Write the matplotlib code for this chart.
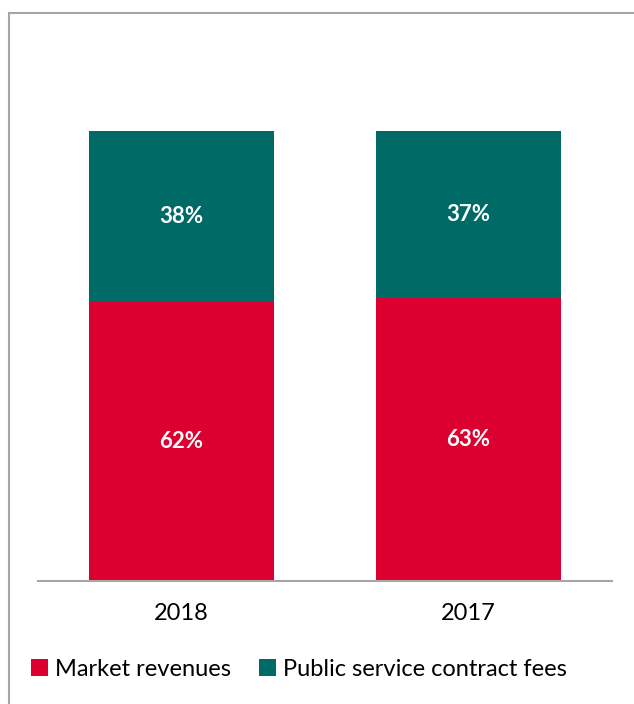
import matplotlib.pyplot as plt
from matplotlib.patches import Rectangle

years = ['2018', '2017']
market = [62, 63]
public = [38, 37]
series_names = ['Market revenues', 'Public service contract fees']
colors = ['#DC0030', '#006B66']

plt.rcParams['font.family'] = ['Lato', 'DejaVu Sans']

W, H = 634, 704
fig = plt.figure(figsize=(W / 100, H / 100), dpi=100)

# 绘图区域（像素换算成比例）
ax = fig.add_axes([38 / W, (H - 581) / H, (612 - 38) / W, (581 - 131) / H])

x = range(len(years))
bw = 0.645
b1 = ax.bar(x, market, bw, color=colors[0], label=series_names[0])
b2 = ax.bar(x, public, bw, bottom=market, color=colors[1], label=series_names[1])

for bars, vals, base in [(b1, market, [0, 0]), (b2, public, market)]:
    for rect, v, b in zip(bars, vals, base):
        ax.text(rect.get_x() + rect.get_width() / 2, b + v / 2, f'{v}%',
                ha='center', va='center', color='white', fontsize=16, fontweight='bold')

ax.set_xlim(-0.5, 1.5)
ax.set_ylim(0, 100)
ax.set_xticks(list(x))
ax.set_xticklabels(years, fontsize=17)
ax.tick_params(axis='x', length=0, pad=16)
ax.set_yticks([])
for s in ['top', 'right', 'left']:
    ax.spines[s].set_visible(False)
ax.spines['bottom'].set_color('#a6a6a6')
ax.spines['bottom'].set_linewidth(1.5)

fig.legend(loc='center left', bbox_to_anchor=(22 / W, (H - 669) / H), ncol=2,
           frameon=False, fontsize=17, handlelength=0.7, handleheight=0.7,
           handletextpad=0.3, columnspacing=1.2, borderaxespad=0)

# 外框
fig.patches.append(Rectangle((9 / W, -0.1), 1.2, (H - 13) / H + 0.1,
                             transform=fig.transFigure, fill=False,
                             edgecolor='#a6a6a6', linewidth=1.5))

plt.savefig('out.png', dpi=100)
